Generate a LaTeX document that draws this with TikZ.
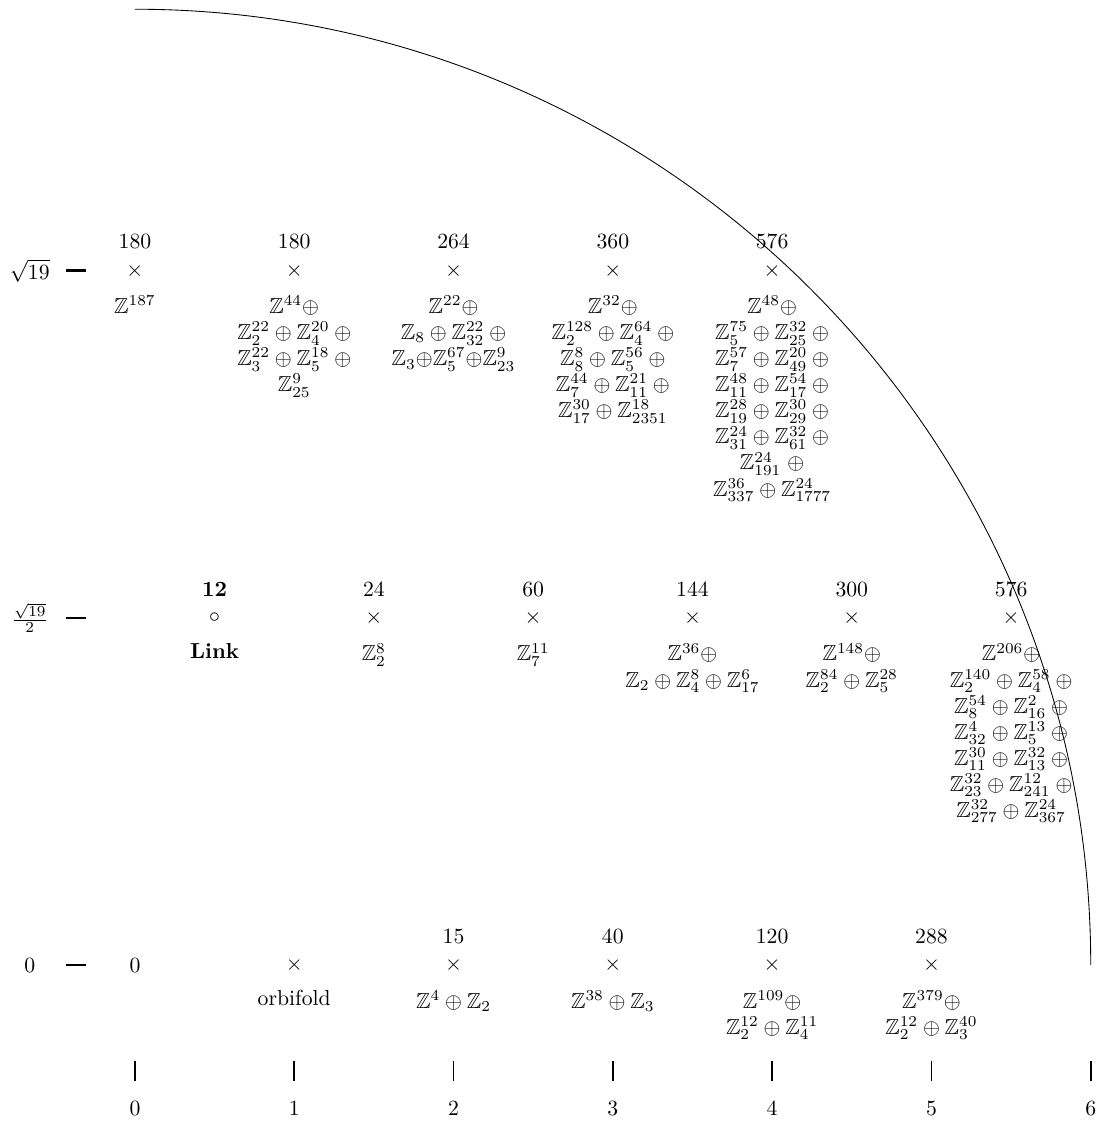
\documentclass[tikz,border=0pt]{standalone}
\usepackage{amsmath,amssymb}
\newcommand{\ZZ}{\mathbb{Z}}
\begin{document}
\begin{tikzpicture}[x=73.4pt,y=73.4pt,
  cross/.style={inner sep=0pt},
  num/.style={anchor=base,inner sep=0pt},
  grp/.style={anchor=north,inner sep=0pt,align=center},
  lab/.style={inner sep=0pt}]
\useasboundingbox (-0.847,-1.023) rectangle (6.077,6.058);
% arc
\coordinate (atop) at (0,6);
\coordinate (aend) at (6,0);
\draw (atop) arc[start angle=90,end angle=0,radius=6];
% left axis
\node[lab] (l0) at (-0.66,0) {$0$};
\node[lab] (d0) at (-0.37,0) {\rule{9.2pt}{1.1pt}};
\node[lab] (l1) at (-0.66,2.179) {$\frac{\sqrt{19}}{2}$};
\node[lab] (d1) at (-0.37,2.179) {\rule{9.2pt}{1.1pt}};
\node[lab] (l2) at (-0.66,4.359) {$\sqrt{19}$};
\node[lab] (d2) at (-0.37,4.359) {\rule{9.2pt}{1.1pt}};
% bottom axis
\foreach \i in {0,...,6}{
  \node[lab] (t\i) at (\i,-0.665) {\rule{0.8pt}{9.5pt}};
  \node[lab] (b\i) at (\i,-0.9) {$\i$};
}
% row 0
\node[lab] (p00) at (0,0) {$0$};
\node[cross] (p01) at (1,0) {$\times$};
\node[grp] (g01) at ([yshift=-11.5pt]p01.center) {orbifold};
\node[cross] (p02) at (2,0) {$\times$};
\node[num] (n02) at ([yshift=10pt]p02.center) {15};
\node[grp] (g02) at ([yshift=-11.5pt]p02.center) {$\ZZ^4 \oplus \ZZ_2$};
\node[cross] (p03) at (3,0) {$\times$};
\node[num] (n03) at ([yshift=10pt]p03.center) {40};
\node[grp] (g03) at ([yshift=-11.5pt]p03.center) {$\ZZ^{38} \oplus \ZZ_3$};
\node[cross] (p04) at (4,0) {$\times$};
\node[num] (n04) at ([yshift=10pt]p04.center) {120};
\node[grp] (g04) at ([yshift=-11.5pt]p04.center) {$\ZZ^{109}\oplus$\\ $\ZZ_2^{12} \oplus \ZZ_4^{11}$};
\node[cross] (p05) at (5,0) {$\times$};
\node[num] (n05) at ([yshift=10pt]p05.center) {288};
\node[grp] (g05) at ([yshift=-11.5pt]p05.center) {$\ZZ^{379}\oplus$\\ $\ZZ_2^{12} \oplus \ZZ_3^{40}$};
% row 1
\node[cross] (p10) at (0.5,2.179) {$\circ$};
\node[num] (n10) at ([yshift=10pt]p10.center) {\textbf{12}};
\node[grp] (g10) at ([yshift=-11.5pt]p10.center) {\textbf{Link}};
\node[cross] (p11) at (1.5,2.179) {$\times$};
\node[num] (n11) at ([yshift=10pt]p11.center) {24};
\node[grp] (g11) at ([yshift=-11.5pt]p11.center) {$\ZZ_2^8$};
\node[cross] (p12) at (2.5,2.179) {$\times$};
\node[num] (n12) at ([yshift=10pt]p12.center) {60};
\node[grp] (g12) at ([yshift=-11.5pt]p12.center) {$\ZZ_7^{11}$};
\node[cross] (p13) at (3.5,2.179) {$\times$};
\node[num] (n13) at ([yshift=10pt]p13.center) {144};
\node[grp] (g13) at ([yshift=-11.5pt]p13.center) {$\ZZ^{36}\oplus$\\ $\ZZ_2 \oplus \ZZ_4^8 \oplus \ZZ_{17}^6$};
\node[cross] (p14) at (4.5,2.179) {$\times$};
\node[num] (n14) at ([yshift=10pt]p14.center) {300};
\node[grp] (g14) at ([yshift=-11.5pt]p14.center) {$\ZZ^{148}\oplus$\\ $\ZZ_2^{84} \oplus \ZZ_5^{28}$};
\node[cross] (p15) at (5.5,2.179) {$\times$};
\node[num] (n15) at ([yshift=10pt]p15.center) {576};
\node[grp] (g15) at ([yshift=-11.5pt]p15.center) {$\ZZ^{206}\oplus$\\
 $\ZZ_2^{140} \oplus \ZZ_4^{58}\:\oplus$\\
 $\ZZ_8^{54} \oplus \ZZ_{16}^{2}\:\oplus$\\
 $\ZZ_{32}^{4} \oplus \ZZ_5^{13}\:\oplus$\\
 $\ZZ_{11}^{30} \oplus \ZZ_{13}^{32}\:\oplus$\\
 $\ZZ_{23}^{32} \oplus \ZZ_{241}^{12}\:\oplus$\\
 $\ZZ_{277}^{32} \oplus \ZZ_{367}^{24}$};
% row 2
\node[cross] (p20) at (0,4.359) {$\times$};
\node[num] (n20) at ([yshift=10pt]p20.center) {180};
\node[grp] (g20) at ([yshift=-11.5pt]p20.center) {$\ZZ^{187}$};
\node[cross] (p21) at (1,4.359) {$\times$};
\node[num] (n21) at ([yshift=10pt]p21.center) {180};
\node[grp] (g21) at ([yshift=-11.5pt]p21.center) {$\ZZ^{44}\oplus$\\
 $\ZZ_2^{22} \oplus \ZZ_4^{20}\:\oplus$\\
 $\ZZ_3^{22} \oplus \ZZ_5^{18}\:\oplus$\\
 $\ZZ_{25}^{9}$};
\node[cross] (p22) at (2,4.359) {$\times$};
\node[num] (n22) at ([yshift=10pt]p22.center) {264};
\node[grp] (g22) at ([yshift=-11.5pt]p22.center) {$\ZZ^{22}\oplus$\\
 $\ZZ_8 \oplus \ZZ_{32}^{22}\:\oplus$\\
 $\ZZ_3{\oplus}\ZZ_5^{67}{\oplus}\ZZ_{23}^{9}$};
\node[cross] (p23) at (3,4.359) {$\times$};
\node[num] (n23) at ([yshift=10pt]p23.center) {360};
\node[grp] (g23) at ([yshift=-11.5pt]p23.center) {$\ZZ^{32}\oplus$\\
 $\ZZ_2^{128} \oplus \ZZ_4^{64}\:\oplus$\\
 $\ZZ_8^{8} \oplus \ZZ_5^{56}\:\oplus$\\
 $\ZZ_7^{44} \oplus \ZZ_{11}^{21}\:\oplus$\\
 $\ZZ_{17}^{30} \oplus \ZZ_{2351}^{18}$};
\node[cross] (p24) at (4,4.359) {$\times$};
\node[num] (n24) at ([yshift=10pt]p24.center) {576};
\node[grp] (g24) at ([yshift=-11.5pt]p24.center) {$\ZZ^{48}\oplus$\\
 $\ZZ_5^{75} \oplus \ZZ_{25}^{32}\:\oplus$\\
 $\ZZ_7^{57} \oplus \ZZ_{49}^{20}\:\oplus$\\
 $\ZZ_{11}^{48} \oplus \ZZ_{17}^{54}\:\oplus$\\
 $\ZZ_{19}^{28} \oplus \ZZ_{29}^{30}\:\oplus$\\
 $\ZZ_{31}^{24} \oplus \ZZ_{61}^{32}\:\oplus$\\
 $\ZZ_{191}^{24}\;\oplus$\\
 $\ZZ_{337}^{36} \oplus \ZZ_{1777}^{24}$};
\end{tikzpicture}
\end{document}
